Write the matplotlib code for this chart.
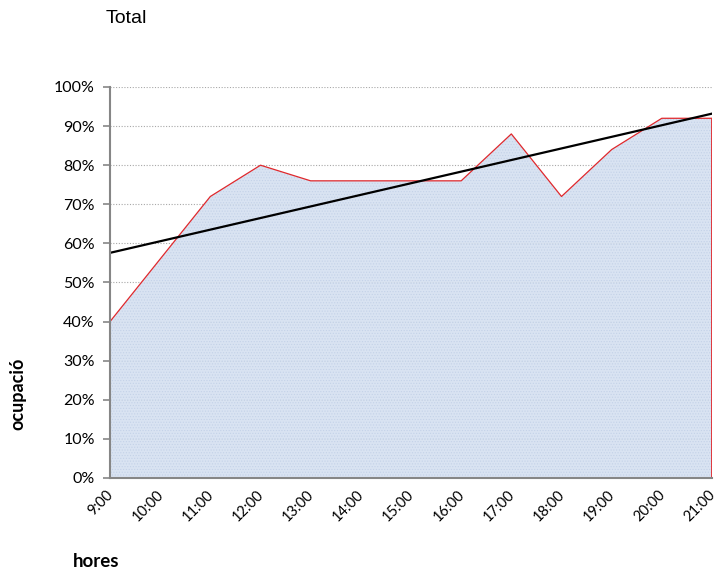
import numpy as np
import matplotlib.pyplot as plt
from matplotlib.ticker import PercentFormatter, MultipleLocator
from matplotlib.transforms import ScaledTranslation

hores = ["9:00", "10:00", "11:00", "12:00", "13:00", "14:00", "15:00",
         "16:00", "17:00", "18:00", "19:00", "20:00", "21:00"]
ocupacio = [0.40, 0.56, 0.72, 0.80, 0.76, 0.76, 0.76,
            0.76, 0.88, 0.72, 0.84, 0.92, 0.92]


def main():
    x = np.arange(len(hores))
    y = np.array(ocupacio)

    plt.rcParams["hatch.linewidth"] = 0.5
    fig = plt.figure(figsize=(7.17, 5.75), dpi=100)
    ax = fig.add_axes([0.1534, 0.1687, 0.993 - 0.1534, 0.8487 - 0.1687])

    # graella puntejada
    ax.yaxis.grid(True, linestyle=(0, (1, 1.5)), color="#a8a8a8", linewidth=0.8, zorder=1)
    ax.set_axisbelow(True)

    # area amb trama
    ax.fill_between(x, 0, y, facecolor="#d3dff0", alpha=0.85, linewidth=0, zorder=2)
    ax.fill_between(x, 0, y, facecolor="none", hatch="......", edgecolor="#c4d2e8",
                    linewidth=0, zorder=2)

    ax.plot(x, y, color="#e0282c", linewidth=0.9, zorder=3)
    ax.vlines(x[-1], 0, y[-1], color="#e0282c", linewidth=2.0, zorder=3)

    # linia de tendencia
    a, b = np.polyfit(x, y, 1)
    ax.plot(x[[0, -1]], a * x[[0, -1]] + b, color="black", linewidth=1.6, zorder=4)

    ax.set_xlim(0, len(hores) - 1)
    ax.set_ylim(0, 1)

    for s in ["top", "right"]:
        ax.spines[s].set_visible(False)
    for s in ["left", "bottom"]:
        ax.spines[s].set_color("#868686")
        ax.spines[s].set_linewidth(1.5)
        ax.spines[s].set_zorder(5)

    ax.yaxis.set_major_locator(MultipleLocator(0.1))
    ax.yaxis.set_major_formatter(PercentFormatter(1.0, decimals=0))
    ax.tick_params(axis="y", length=5, width=1.2, color="#868686", pad=6,
                   labelsize=11.5)
    for lab in ax.get_yticklabels():
        lab.set_family("Lato")

    ax.set_xticks(x)
    ax.set_xticklabels(hores, rotation=45, ha="right", rotation_mode="anchor",
                       family="Lato", fontsize=10.5)
    ax.tick_params(axis="x", which="major", length=0, pad=7)
    shift = ScaledTranslation(-4 / 100, 0, fig.dpi_scale_trans)
    for lab in ax.get_xticklabels():
        lab.set_transform(lab.get_transform() + shift)
    ax.set_xticks(x[::2], minor=True)
    ax.tick_params(axis="x", which="minor", length=5, width=1.2, color="#868686")

    fig.text(0.147, 0.968, "Total", family="Liberation Sans", fontsize=14,
             ha="left", va="center")
    fig.text(0.025, 0.315, "ocupació", family="Lato", fontweight="bold",
             fontsize=13, rotation=90, ha="center", va="center")
    fig.text(0.134, 0.023, "hores", family="Lato", fontweight="bold",
             fontsize=13.5, ha="center", va="center")

    fig.savefig("out.png", dpi=100)


if __name__ == "__main__":
    main()
